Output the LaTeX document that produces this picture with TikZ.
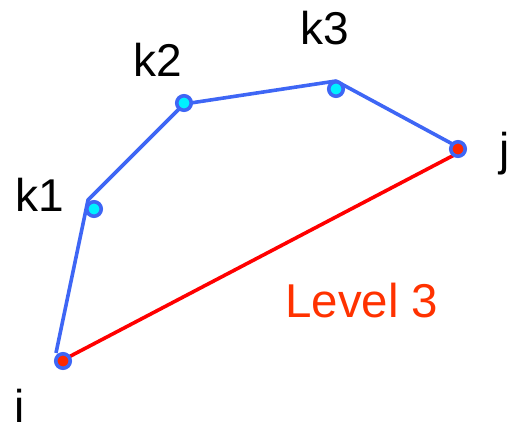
\documentclass[tikz,border=0pt]{standalone}
\usepackage{fontspec}
\setmainfont{Liberation Sans}
\definecolor{lineblue}{RGB}{62,102,245}
\definecolor{dotcyan}{RGB}{0,240,255}
\definecolor{dotred}{RGB}{255,40,0}
\definecolor{textred}{RGB}{255,50,0}
\begin{document}
\begin{tikzpicture}[x=1pt,y=-1pt,
  bluepath/.style={draw=lineblue,line width=3.6pt,line join=round},
  redpath/.style={draw=red,line width=3.6pt},
  kdot/.style={circle,draw=lineblue,line width=3.6pt,fill=dotcyan,minimum size=14.5pt,inner sep=0pt},
  edot/.style={circle,draw=lineblue,line width=3.6pt,fill=dotred,minimum size=14.5pt,inner sep=0pt},
  lbl/.style={font=\fontsize{46}{50}\selectfont,inner sep=0pt,anchor=base west},
]
\useasboundingbox (0,0) rectangle (507,425);
% path vertices
\coordinate (pi) at (56,353);
\coordinate (p1) at (88,200);
\coordinate (p2) at (184,104);
\coordinate (p3) at (336,81);
\coordinate (pj) at (458,147);
\coordinate (ri) at (63,360);
\coordinate (rj) at (458,153);
\draw[bluepath] (pi) -- (p1) -- (p2) -- (p3) -- (pj);
\draw[redpath] (ri) -- (rj);
% dots
\node[edot] (i) at (63,361) {};
\node[kdot] (k1) at (94,209) {};
\node[kdot] (k2) at (184,103) {};
\node[kdot] (k3) at (336,89) {};
\node[edot] (j) at (458,149) {};
% labels
\node[lbl] (li) at (14,422) {i};
\node[lbl] (lk1) at (15,212) {k1};
\node[lbl] (lk2) at (133,77) {k2};
\node[lbl] (lk3) at (300,45) {k3};
\node[lbl] (lj) at (499,166) {j};
\node[lbl,text=textred,font=\fontsize{47.5}{50}\selectfont] (lev) at (285,318) {Level 3};
\end{tikzpicture}
\end{document}
